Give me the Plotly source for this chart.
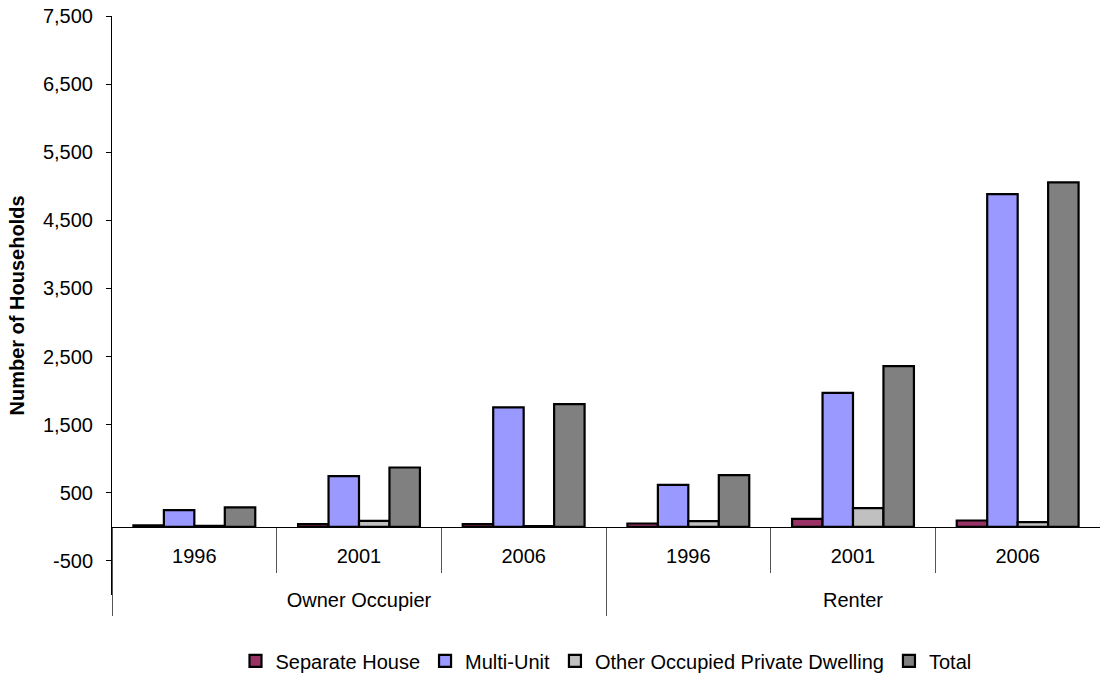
import plotly.graph_objects as go

tenure = ["Owner Occupier"] * 3 + ["Renter"] * 3
years = ["1996", "2001", "2006"] * 2
tenure_groups = ["Owner Occupier", "Renter"]

separate_house = [22, 40, 40, 50, 117, 94]
multi_unit = [245, 744, 1753, 617, 1968, 4885]
other_dwelling = [15, 88, 10, 84, 275, 69]
total = [285, 872, 1802, 759, 2360, 5057]

series_names = ["Separate House", "Multi-Unit", "Other Occupied Private Dwelling", "Total"]
series_colors = ["#993366", "#9999FF", "#C0C0C0", "#808080"]

y_tickvals = [-500, 500, 1500, 2500, 3500, 4500, 5500, 6500, 7500]
y_ticktext = ["-500", "500", "1,500", "2,500", "3,500", "4,500", "5,500", "6,500", "7,500"]
y_min, y_max = -1000, 7500

FONT = "Arial, Liberation Sans, sans-serif"

# unique category keys for the inner (year) level
cat_keys = [f"{t}|{y}" for t, y in zip(tenure, years)]

fig = go.Figure()
for name, vals, col in zip(series_names, [separate_house, multi_unit, other_dwelling, total], series_colors):
    fig.add_trace(go.Bar(
        x=cat_keys, y=vals, name=name,
        marker=dict(color=col, line=dict(color="black", width=2.2)),
    ))

# helper trace so the outer (tenure) axis knows its categories
fig.add_trace(go.Scatter(x=tenure_groups, y=[None, None], xaxis="x2", yaxis="y",
                         mode="markers", showlegend=False, hoverinfo="skip"))

zero_pos = (0 - y_min) / (y_max - y_min)

fig.update_layout(
    width=1100, height=674,
    paper_bgcolor="white", plot_bgcolor="white",
    margin=dict(l=112, r=0, t=16, b=79, autoexpand=False),
    barmode="group", bargap=0.26, bargroupgap=0,
    font=dict(family=FONT, size=20, color="black"),
    showlegend=True,
    legend=dict(orientation="h", x=0.5, xanchor="center", y=-0.080, yanchor="top",
                font=dict(size=20), traceorder="normal", itemwidth=30),
    xaxis=dict(
        type="category", categoryorder="array", categoryarray=cat_keys,
        tickvals=cat_keys, ticktext=years,
        anchor="free", position=zero_pos, automargin=False,
        showline=True, linecolor="black", linewidth=1, showgrid=False, zeroline=False,
        ticks="outside", tickson="boundaries", ticklen=45, tickcolor="#555555", tickwidth=1,
        ticklabelstandoff=11, tickfont=dict(size=20),
    ),
    xaxis2=dict(
        type="category", categoryorder="array", categoryarray=tenure_groups,
        range=[-0.5, 1.5], overlaying="x",
        anchor="free", position=zero_pos, side="bottom", automargin=False,
        showline=False, showgrid=False, zeroline=False,
        ticks="outside", tickson="boundaries", ticklen=88, tickcolor="#555555", tickwidth=1,
        ticklabelstandoff=59, tickfont=dict(size=20),
    ),
    yaxis=dict(
        range=[y_min, y_max], tickvals=y_tickvals, ticktext=y_ticktext, automargin=False,
        showgrid=False, zeroline=False, showline=True, linecolor="black", linewidth=1,
        ticks="outside", ticklen=5, tickcolor="black", ticklabelstandoff=9,
        title=dict(text="<b>Number of Households</b>", font=dict(size=20), standoff=12),
    ),
)

fig.write_html(
    "out.html",
    config={"displayModeBar": False},
    post_script="document.body.style.margin='0';document.body.style.overflow='hidden';",
)
